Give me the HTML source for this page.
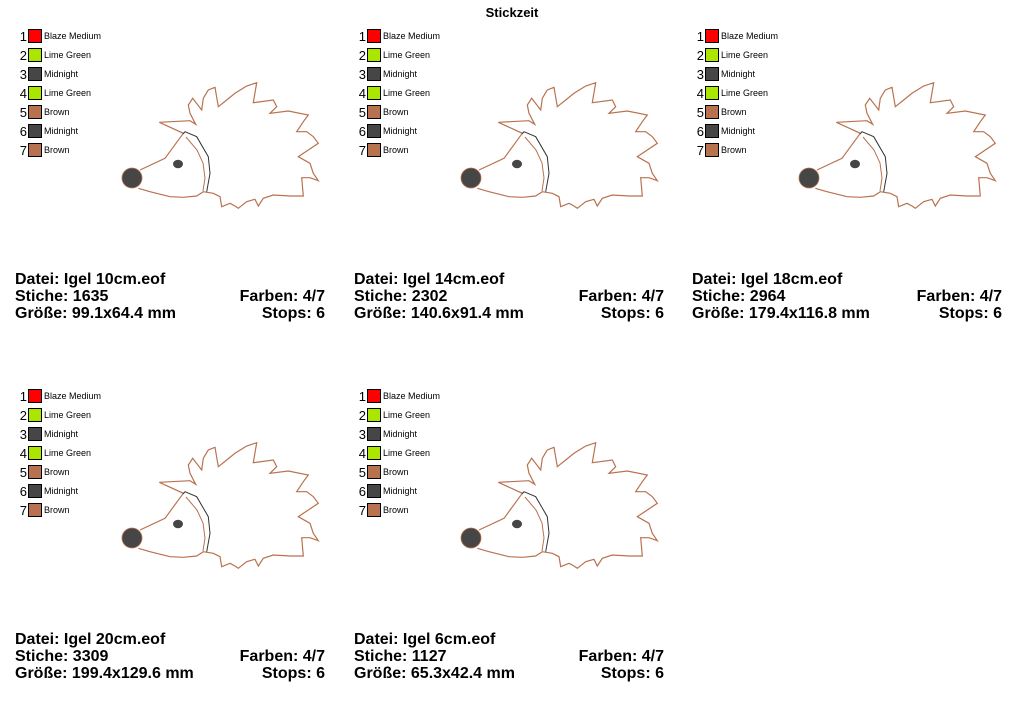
<!DOCTYPE html>
<html><head><meta charset="utf-8"><style>
body{margin:0;width:1024px;height:710px;background:#fff;position:relative;overflow:hidden;font-family:"Liberation Sans",Arial,sans-serif}
.t{position:absolute;font-weight:bold;font-size:16px;color:#000;white-space:nowrap;line-height:17px}
.r{text-align:right}
</style></head><body>
<svg width="1024" height="710" style="position:absolute;left:0;top:0" font-family="Liberation Sans, Arial, sans-serif">
<defs>
<g id="leg">
<g font-size="13" text-anchor="end"><text x="27" y="41">1</text><text x="27" y="60">2</text><text x="27" y="79">3</text><text x="27" y="98">4</text><text x="27" y="117">5</text><text x="27" y="136">6</text><text x="27" y="155">7</text></g>
<g stroke="#000" stroke-width="1">
<rect x="28.5" y="29.5" width="13" height="13" fill="#ff0000"/>
<rect x="28.5" y="48.5" width="13" height="13" fill="#aae600"/>
<rect x="28.5" y="67.5" width="13" height="13" fill="#464646"/>
<rect x="28.5" y="86.5" width="13" height="13" fill="#aae600"/>
<rect x="28.5" y="105.5" width="13" height="13" fill="#b97250"/>
<rect x="28.5" y="124.5" width="13" height="13" fill="#464646"/>
<rect x="28.5" y="143.5" width="13" height="13" fill="#b97250"/>
</g>
<g font-size="9"><text x="44" y="39">Blaze Medium</text><text x="44" y="58">Lime Green</text><text x="44" y="77">Midnight</text><text x="44" y="96">Lime Green</text><text x="44" y="115">Brown</text><text x="44" y="134">Midnight</text><text x="44" y="153">Brown</text></g>
</g>
<g id="hog">
<path d="M140,170 L165,158.3 L183.3,133.3 L159.3,122.3 L190,120.7 L195.7,124.3 L190,113.3 L188.3,105 L192.7,98.3 L201.7,110 L203.3,98.3 L208.3,90 L215,87.3 L218.3,106.7 L226.7,100 L235,93.3 L246.7,86 L256.7,82.7 L253.3,102.7 L273.3,100 L276.7,106.7 L270,113.3 L288.3,111 L308.3,115 L303.3,121.7 L296.7,131.7 L306.7,131.7 L313.3,136.7 L318.3,143.3 L308.3,150 L298.3,156.7 L310,163.3 L313.3,173.3 L318.3,180.7 L310,177.7 L301.7,177.7 L303.3,196 L290,196 L273.3,195 L263.3,198.3 L258.3,206 L255,199.3 L246.7,201.7 L238.3,208.3 L235,206 L230,203.3 L221.7,206.7 L220,196.7 L213.3,193.3 L203.3,191.7 L196.7,196 L183.3,197.3 L170,196.7 L150,191.7 L138.3,188.3" fill="none" stroke="#b97250" stroke-width="1.2"/>
<path d="M186,137 L197,150 L203,163 L205,178 L203,191" fill="none" stroke="#b97250" stroke-width="1"/>
<path d="M183,134 L185,131.7 L196.7,136.7 L208.3,156.7 L210,173.3 L206.7,191.7" fill="none" stroke="#333" stroke-width="1"/>
<circle cx="132" cy="178" r="10" fill="#464646" stroke="#b97250" stroke-width="0.8"/>
<ellipse cx="178" cy="164" rx="5" ry="4.3" fill="#464646"/>
</g>
</defs>
<text x="512" y="17" font-size="13" font-weight="bold" text-anchor="middle">Stickzeit</text>
<use href="#leg"/><use href="#hog"/>
<g transform="translate(339,0)"><use href="#leg"/><use href="#hog"/></g>
<g transform="translate(677,0)"><use href="#leg"/><use href="#hog"/></g>
<g transform="translate(0,360)"><use href="#leg"/><use href="#hog"/></g>
<g transform="translate(339,360)"><use href="#leg"/><use href="#hog"/></g>
</svg>
<div class="t" style="left:15px;top:271px">Datei: Igel 10cm.eof<br>Stiche: 1635<br>Größe: 99.1x64.4 mm</div>
<div class="t r" style="left:175px;width:150px;top:288px">Farben: 4/7<br>Stops: 6</div>
<div class="t" style="left:354px;top:271px">Datei: Igel 14cm.eof<br>Stiche: 2302<br>Größe: 140.6x91.4 mm</div>
<div class="t r" style="left:514px;width:150px;top:288px">Farben: 4/7<br>Stops: 6</div>
<div class="t" style="left:692px;top:271px">Datei: Igel 18cm.eof<br>Stiche: 2964<br>Größe: 179.4x116.8 mm</div>
<div class="t r" style="left:852px;width:150px;top:288px">Farben: 4/7<br>Stops: 6</div>
<div class="t" style="left:15px;top:631px">Datei: Igel 20cm.eof<br>Stiche: 3309<br>Größe: 199.4x129.6 mm</div>
<div class="t r" style="left:175px;width:150px;top:648px">Farben: 4/7<br>Stops: 6</div>
<div class="t" style="left:354px;top:631px">Datei: Igel 6cm.eof<br>Stiche: 1127<br>Größe: 65.3x42.4 mm</div>
<div class="t r" style="left:514px;width:150px;top:648px">Farben: 4/7<br>Stops: 6</div>
</body></html>
